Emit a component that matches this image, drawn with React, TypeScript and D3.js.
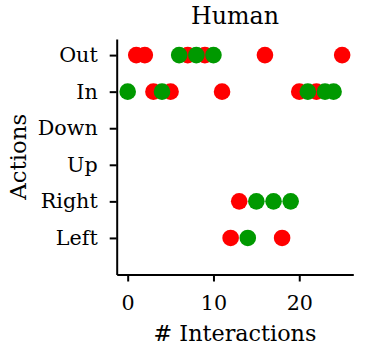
import React, { useRef, useEffect } from 'react';
import * as d3 from 'd3';

const actions = ['Left', 'Right', 'Up', 'Down', 'In', 'Out'];
const xTicks = [0, 10, 20];

// interaction indices per action, split by outcome colour
const redOut = [1, 2, 7, 9, 16, 25];
const greenOut = [6, 8, 10];
const redIn = [3, 5, 11, 20, 22];
const greenIn = [0, 4, 21, 23, 24];
const redRight = [13];
const greenRight = [15, 17, 19];
const redLeft = [12, 18];
const greenLeft = [14];

const redPoints = [
  ...redOut.map(v => ({ x: v, a: 'Out' })),
  ...redIn.map(v => ({ x: v, a: 'In' })),
  ...redRight.map(v => ({ x: v, a: 'Right' })),
  ...redLeft.map(v => ({ x: v, a: 'Left' })),
];
const greenPoints = [
  ...greenOut.map(v => ({ x: v, a: 'Out' })),
  ...greenIn.map(v => ({ x: v, a: 'In' })),
  ...greenRight.map(v => ({ x: v, a: 'Right' })),
  ...greenLeft.map(v => ({ x: v, a: 'Left' })),
];

const FONT = '"DejaVu Serif", serif';

// scale font size so that a text node spans roughly the given width
const fitSize = (node: SVGTextElement, target: number, base: number) => {
  const len = node.getComputedTextLength();
  return len > 0 ? base * target / len : base;
};

const App = () => {
  const svgRef = useRef<SVGSVGElement>(null);
  const width = 366, height = 352;

  useEffect(() => {
    const svg = d3.select(svgRef.current);
    svg.selectAll('*').remove();

    const left = 116.7, right = 353.3, top = 39, bottom = 274.5;

    const x = d3.scaleLinear().domain([-1.28, 26.3]).range([left, right]);
    const y = d3.scaleLinear().domain([-1, 5.44]).range([bottom, top]);

    // title
    const title = svg.append('text')
      .attr('x', (left + right) / 2).attr('y', 23.5)
      .attr('text-anchor', 'middle')
      .attr('font-family', FONT).attr('font-size', 24)
      .text('Human');
    title.attr('font-size', fitSize(title.node()!, 88, 24));

    // y axis
    const yAxis = svg.append('g')
      .attr('transform', `translate(${left},0)`)
      .call(d3.axisLeft(y).tickValues(d3.range(actions.length))
        .tickFormat(d => actions[d as number]).tickSize(7).tickPadding(12).tickSizeOuter(0));
    yAxis.select('.domain').attr('stroke-width', 2);
    yAxis.selectAll('.tick line').attr('stroke-width', 2);
    yAxis.attr('font-family', FONT).attr('font-size', 20);
    const rightLabel = yAxis.selectAll<SVGTextElement, number>('.tick text').filter(d => actions[d] === 'Right');
    const tickSize = fitSize(rightLabel.node()!, 57, 20);
    yAxis.attr('font-size', tickSize);

    // x axis
    const xAxis = svg.append('g')
      .attr('transform', `translate(0,${bottom})`)
      .call(d3.axisBottom(x).tickValues(xTicks).tickSize(7).tickPadding(11).tickSizeOuter(0));
    xAxis.select('.domain').attr('stroke-width', 2);
    xAxis.selectAll('.tick line').attr('stroke-width', 2);
    xAxis.attr('font-family', FONT).attr('font-size', tickSize);
    xAxis.selectAll('.tick text').attr('dy', null).attr('y', 310 - bottom);

    // axis labels
    const xl = svg.append('text')
      .attr('x', (left + right) / 2).attr('y', 341)
      .attr('text-anchor', 'middle')
      .attr('font-family', FONT).attr('font-size', 24)
      .text('# Interactions');
    xl.attr('font-size', fitSize(xl.node()!, 163, 24));

    const yl = svg.append('text')
      .attr('transform', `translate(26,${(top + bottom) / 2}) rotate(-90)`)
      .attr('text-anchor', 'middle')
      .attr('font-family', FONT).attr('font-size', 24)
      .text('Actions');
    yl.attr('font-size', fitSize(yl.node()!, 86, 24));

    const plot = svg.append('g');
    plot.selectAll('.red').data(redPoints).enter().append('circle')
      .attr('class', 'red')
      .attr('cx', d => x(d.x))
      .attr('cy', d => y(actions.indexOf(d.a)))
      .attr('r', 8.3)
      .attr('fill', '#ff0000');
    plot.selectAll('.green').data(greenPoints).enter().append('circle')
      .attr('class', 'green')
      .attr('cx', d => x(d.x))
      .attr('cy', d => y(actions.indexOf(d.a)))
      .attr('r', 8.3)
      .attr('fill', '#009900');
  }, []);

  return <svg ref={svgRef} width={width} height={height} style={{ position: 'absolute', left: 0, top: 0 }} />;
};

export default App;
